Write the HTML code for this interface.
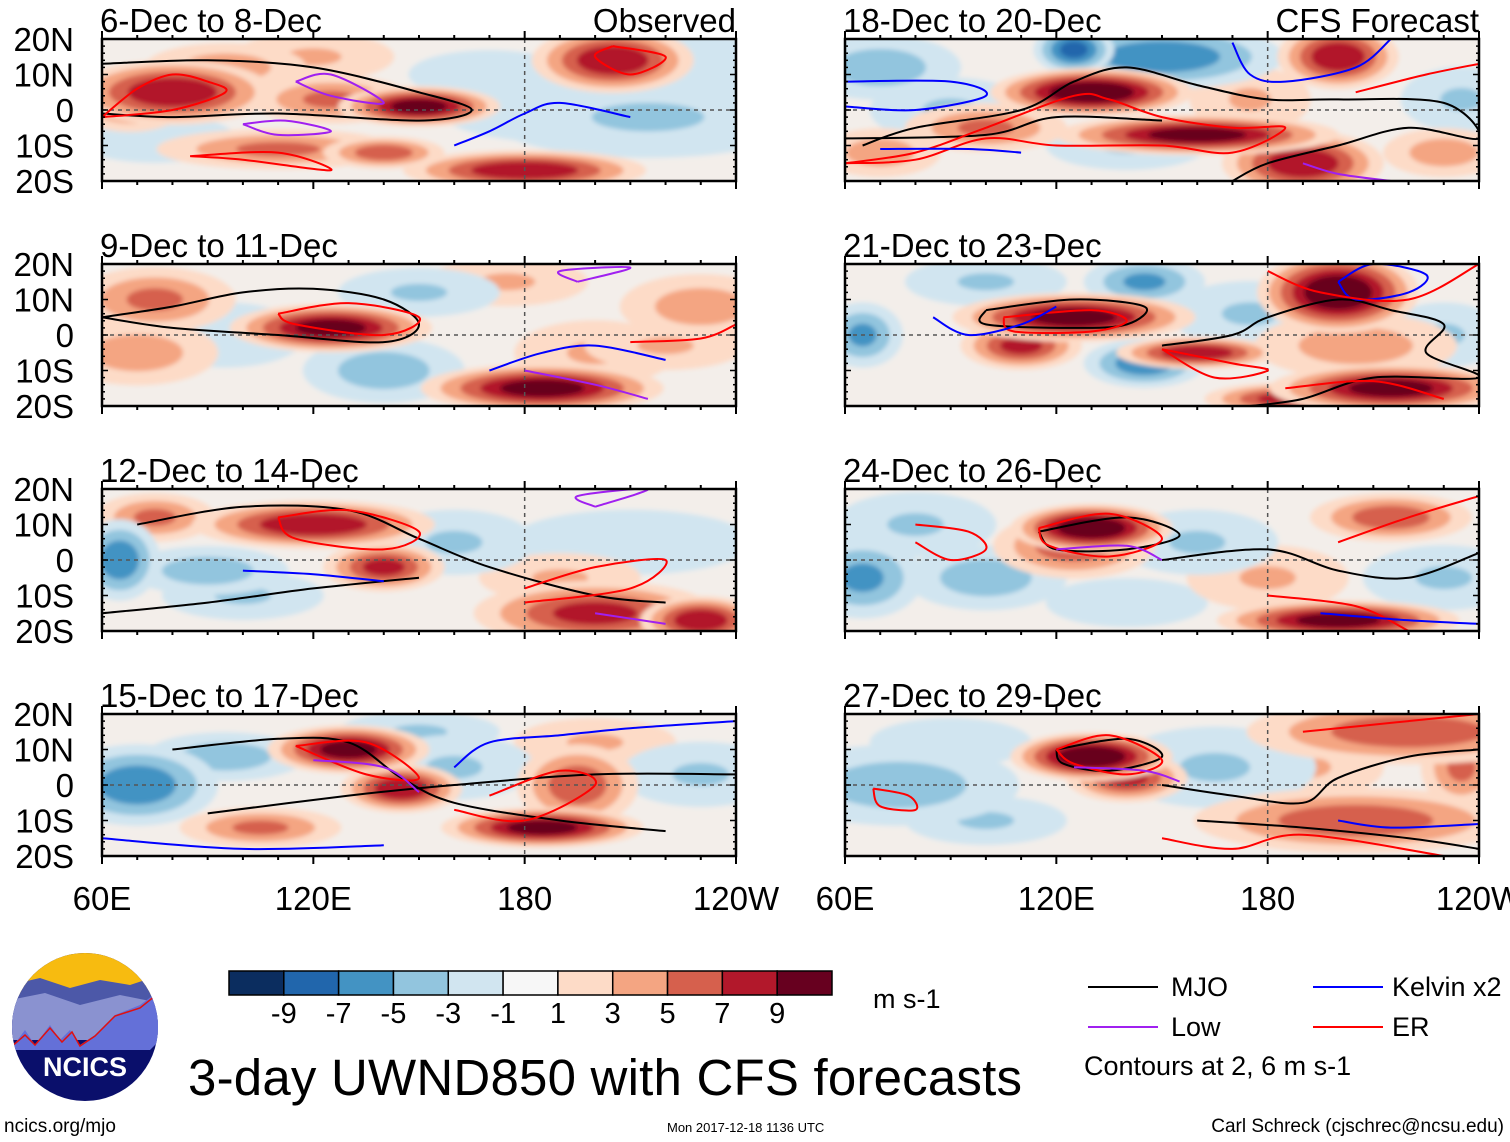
<!DOCTYPE html>
<html><head><meta charset="utf-8">
<style>
body{margin:0;background:#fff;}
svg{display:block;font-family:"Liberation Sans",Arial,sans-serif;}
</style></head>
<body>
<svg id="fig" width="1510" height="1142" viewBox="0 0 1510 1142" xmlns="http://www.w3.org/2000/svg">
<defs><clipPath id="cp0"><rect x="0" y="0" width="634" height="142"/></clipPath>
<filter id="soft" x="-5%" y="-5%" width="110%" height="110%"><feGaussianBlur stdDeviation="2.5"/></filter></defs>
<g id="panels"></g>

<g id="cbar"></g>
<text x="873" y="1008" font-size="27">m s-1</text>

<g font-size="27">
<line x1="1088" y1="987" x2="1158" y2="987" stroke="#000" stroke-width="2"/>
<text x="1171" y="996">MJO</text>
<line x1="1088" y1="1027" x2="1158" y2="1027" stroke="#a020f0" stroke-width="2"/>
<text x="1171" y="1036">Low</text>
<line x1="1313" y1="987" x2="1383" y2="987" stroke="#0000ff" stroke-width="2"/>
<text x="1392" y="996">Kelvin x2</text>
<line x1="1313" y1="1027" x2="1383" y2="1027" stroke="#ff0000" stroke-width="2"/>
<text x="1392" y="1036">ER</text>
<text x="1084" y="1075">Contours at 2, 6 m s-1</text>
</g>

<g>
<clipPath id="logoclip"><ellipse cx="85" cy="1027" rx="73" ry="74"/></clipPath>
<g clip-path="url(#logoclip)">
<rect x="10" y="950" width="150" height="155" fill="#0a0f6b"/>
<rect x="10" y="950" width="150" height="45" fill="#f7bb10"/>
<path d="M10 985 L40 978 L70 988 L100 980 L130 985 L160 975 L160 1040 L10 1040Z" fill="#4c58a8"/>
<path d="M10 1000 L45 993 L80 1005 L120 995 L160 1003 L160 1040 L10 1040Z" fill="#8a92d0"/>
<path d="M10 1050 L25 1030 L35 1045 L50 1025 L60 1040 L70 1030 L80 1045 L95 1035 L115 1015 L140 1005 L160 990 L160 1040 L150 1050 L10 1050Z" fill="#6470d8"/>
<path d="M10 1048 L25 1035 L35 1045 L50 1028 L62 1042 L72 1032 L80 1046 L95 1036 L115 1016 L140 1008 L160 992" fill="none" stroke="#e01010" stroke-width="1.5"/>
</g>
<text x="85" y="1076" font-size="27" font-weight="bold" fill="#fff" text-anchor="middle">NCICS</text>
</g>

<text x="188" y="1095" font-size="51" textLength="834">3-day UWND850 with CFS forecasts</text>
<text x="4" y="1132" font-size="19">ncics.org/mjo</text>
<text x="667" y="1132" font-size="13">Mon 2017-12-18 1136 UTC</text>
<text x="1504" y="1132" font-size="19" text-anchor="end">Carl Schreck (cjschrec@ncsu.edu)</text>
</svg>

<script>
// ---- data ----
const panelTitles = ["6-Dec to 8-Dec","9-Dec to 11-Dec","12-Dec to 14-Dec","15-Dec to 17-Dec","18-Dec to 20-Dec","21-Dec to 23-Dec","24-Dec to 26-Dec","27-Dec to 29-Dec"];
const latTicks = ["20N","10N","0","10S","20S"];
const lonTicks = ["60E","120E","180","120W"];
const colorLevels = [-9,-7,-5,-3,-1,1,3,5,7,9];
const colorBins = ["#0b2d5f","#2166ac","#4393c3","#92c5de","#d1e5f0","#f7f7f7","#fddbc7","#f4a582","#d6604d","#b2182b","#67001f"];
// anomaly blobs: [lon, lat, value(m/s), lonSpan, latSpan]
const anom0 = [[80,5,8,25,8],[68,3,6,15,8],[95,12,4,20,6],[125,3,5,20,6],[150,1,9,20,5],[140,-12,6,15,4],[110,-11,5,30,5],[205,14,8,20,8],[180,-17,8,30,5],[120,15,3,20,6],[215,-2,-3,40,10],[190,0,-2,30,8],[75,-8,-2,20,6],[230,12,-2,20,8],[170,10,-2,20,6]];
const anom1 = [[125,2,9,25,6],[75,10,5,20,8],[70,-5,4,20,8],[185,-15,9,30,6],[175,15,3,20,6],[200,-5,3,20,8],[230,8,4,20,8],[220,-3,3,20,6],[140,-10,-4,20,8],[150,12,-3,20,6],[95,0,-2,20,8],[60,0,-3,10,8]];
const anom2 = [[120,10,8,30,6],[140,-2,7,15,6],[75,12,5,15,6],[200,-15,7,30,8],[230,-17,8,15,6],[190,-5,3,20,6],[65,0,-6,10,10],[90,-3,-4,20,6],[100,-10,-3,20,6],[160,5,-3,20,8],[210,5,-2,30,8]];
const anom3 = [[130,10,9,20,6],[145,-1,8,15,6],[185,-12,9,25,5],[195,0,6,15,10],[105,-12,5,20,5],[200,12,3,20,6],[70,0,-6,20,10],[95,8,-4,20,6],[150,15,-3,20,5],[230,3,-3,20,8],[160,5,-3,20,8]];
const anom4 = [[130,5,10,25,6],[160,-7,9,35,5],[190,-15,8,20,8],[200,15,8,15,8],[100,-5,5,20,6],[230,-12,4,15,6],[70,-12,4,15,6],[175,3,3,15,8],[150,15,-6,30,8],[125,17,-7,10,6],[70,12,-4,20,8],[235,3,-3,15,8],[90,0,-3,20,8],[140,-10,-3,20,6]];
const anom5 = [[125,5,9,30,6],[110,-3,7,15,6],[200,12,10,20,10],[215,-15,9,30,6],[160,-5,8,20,4],[185,-18,7,20,4],[205,-3,4,25,8],[65,0,-5,10,8],[145,-8,-6,15,6],[145,15,-5,15,6],[175,6,-3,20,8],[230,0,-3,15,8],[100,15,-3,20,6]];
const anom6 = [[130,9,10,20,6],[125,4,6,20,8],[200,-17,9,30,5],[215,12,6,20,6],[180,-5,3,20,8],[65,-5,-5,15,10],[100,-5,-4,20,8],[80,10,-3,20,8],[160,5,-3,20,8],[230,-5,-3,20,8],[140,-12,-2,20,6]];
const anom7 = [[130,8,10,20,6],[140,2,7,15,6],[205,-10,6,40,8],[220,15,6,40,8],[190,5,3,20,8],[235,5,5,10,10],[75,0,-4,30,10],[165,5,-3,25,10],[100,-10,-3,20,6],[90,12,-2,20,6]];
const anomSets = [anom0,anom1,anom2,anom3,anom4,anom5,anom6,anom7];
// contour lines: [type, [[lon,lat],...]]
const cont0 = [["mjo",[[60,13],[90,14],[120,12],[150,5],[165,0],[150,-3],[110,-1],[80,-2],[60,-1]]],["er",[[60,-2],[70,6],[80,10],[90,8],[95,5],[80,0],[60,-2]]],["er",[[85,-13],[100,-14],[125,-17],[110,-12],[85,-13]]],["kelvin",[[160,-10],[170,-6],[180,-1],[190,2],[210,-2]]],["low",[[115,8],[125,10],[140,2],[125,4],[115,8]]],["low",[[100,-4],[110,-7],[125,-6],[112,-3],[100,-4]]],["er",[[205,18],[220,15],[210,10],[200,15],[205,18]]]];
const cont1 = [["mjo",[[60,5],[80,8],[100,12],[120,13],[140,10],[150,3],[140,-2],[110,0],[80,2],[60,5]]],["er",[[110,6],[130,9],[150,5],[140,0],[115,3],[110,6]]],["kelvin",[[170,-10],[185,-5],[200,-3],[220,-7]]],["er",[[210,-2],[230,-1],[240,3]]],["low",[[180,-10],[200,-14],[215,-18]]],["low",[[195,15],[210,19],[190,18],[195,15]]]];
const cont2 = [["mjo",[[70,10],[100,15],[130,14],[150,6],[170,-2],[200,-10],[220,-12]]],["mjo",[[60,-15],[90,-12],[120,-8],[150,-5]]],["er",[[110,12],[130,14],[150,8],[140,3],[115,6],[110,12]]],["er",[[180,-8],[200,-2],[220,0],[210,-8],[180,-12]]],["kelvin",[[100,-3],[120,-4],[140,-6]]],["low",[[200,-15],[220,-18]]],["low",[[200,15],[215,20],[195,18],[200,15]]]];
const cont3 = [["mjo",[[80,10],[110,13],[130,12],[145,2],[160,-5],[190,-10],[220,-13]]],["mjo",[[90,-8],[130,-3],[160,0],[200,3],[240,3]]],["er",[[115,11],[135,12],[150,2],[135,3],[115,11]]],["er",[[160,-7],[180,-10],[200,0],[190,4],[170,-3]]],["kelvin",[[160,5],[170,12],[190,14],[210,16],[240,18]]],["low",[[120,7],[140,5],[150,-2]]],["kelvin",[[60,-15],[100,-18],[140,-17]]]];
const cont4 = [["mjo",[[65,-10],[80,-5],[110,0],[125,8],[140,12],[160,7],[180,3],[200,3],[230,2],[240,-8],[220,-5],[200,-10],[180,-15],[170,-20]]],["mjo",[[60,-8],[100,-7],[120,-2],[150,-3]]],["er",[[60,-15],[80,-12],[100,-5],[125,4],[135,3],[150,-2],[170,-5],[185,-5],[170,-12],[150,-10],[120,-10],[100,-8],[80,-14],[60,-15]]],["kelvin",[[60,8],[90,8],[100,4],[80,0],[60,1]]],["kelvin",[[70,-11],[95,-11],[110,-12]]],["kelvin",[[170,19],[175,10],[185,8],[205,12],[215,20]]],["er",[[205,5],[225,10],[240,13]]],["low",[[190,-15],[200,-18],[215,-20]]]];
const cont5 = [["mjo",[[100,7],[125,10],[145,8],[140,3],[125,2],[100,3],[100,7]]],["mjo",[[150,-3],[170,0],[180,5],[200,10],[215,7],[230,3],[225,-5],[240,-12],[210,-12],[190,-18],[175,-20]]],["er",[[105,5],[130,7],[140,4],[130,1],[108,1],[105,5]]],["er",[[150,-4],[170,-8],[180,-10],[165,-12],[150,-4]]],["er",[[185,-15],[210,-13],[230,-18]]],["kelvin",[[200,15],[210,20],[225,17],[220,12],[205,10],[200,15]]],["kelvin",[[85,5],[95,0],[110,3],[120,8]]],["er",[[180,18],[195,12],[220,10],[240,20]]]];
const cont6 = [["mjo",[[115,8],[140,12],[155,7],[140,3],[120,3],[115,8]]],["mjo",[[150,0],[180,3],[200,-3],[220,-5],[240,2]]],["er",[[115,9],[135,13],[150,6],[135,1],[118,4],[115,9]]],["er",[[80,10],[95,8],[100,3],[90,0],[80,5]]],["er",[[180,-10],[205,-13],[220,-20]]],["kelvin",[[195,-15],[220,-17],[240,-18]]],["er",[[200,5],[220,12],[240,18]]],["low",[[120,3],[140,4],[150,0]]]];
const cont7 = [["mjo",[[120,10],[140,13],[150,8],[135,4],[122,6],[120,10]]],["mjo",[[150,0],[170,-3],[190,-5],[200,2],[220,8],[240,10]]],["mjo",[[160,-10],[190,-12],[220,-15],[240,-18]]],["er",[[120,10],[135,14],[150,7],[140,3],[125,6],[120,10]]],["er",[[68,-1],[78,-3],[80,-7],[70,-6],[68,-1]]],["er",[[150,-15],[170,-18],[190,-14],[230,-20]]],["kelvin",[[200,-10],[215,-12],[240,-11]]],["low",[[125,5],[145,4],[155,1]]],["er",[[190,15],[220,18],[240,20]]]];
const contSets = [cont0,cont1,cont2,cont3,cont4,cont5,cont6,cont7];

// ---- layout / axes ----
const NS = "http://www.w3.org/2000/svg";
const colX = [102, 845];
const rowY = [39, 264, 489, 714];
const PW = 634, PH = 142;
const xScale = lon => (lon - 60) / 180 * PW;
const yScale = lat => (20 - lat) / 40 * PH;
const colorFor = v => { let i = 0; while (i < colorLevels.length && v > colorLevels[i]) i++; return colorBins[i]; };
const lineColor = {mjo:"#000", er:"#ff0000", kelvin:"#0000ff", low:"#a020f0"};
function mk(tag, attrs, parent){ const e=document.createElementNS(NS,tag); for(const k in attrs) e.setAttribute(k,attrs[k]); parent.appendChild(e); return e; }
function smooth(pts){
  let d = "M"+pts[0][0].toFixed(1)+" "+pts[0][1].toFixed(1);
  for (let i=0;i<pts.length-1;i++){
    const p0=pts[Math.max(i-1,0)], p1=pts[i], p2=pts[i+1], p3=pts[Math.min(i+2,pts.length-1)];
    const c1=[p1[0]+(p2[0]-p0[0])/6, p1[1]+(p2[1]-p0[1])/6];
    const c2=[p2[0]-(p3[0]-p1[0])/6, p2[1]-(p3[1]-p1[1])/6];
    d += " C"+c1[0].toFixed(1)+" "+c1[1].toFixed(1)+" "+c2[0].toFixed(1)+" "+c2[1].toFixed(1)+" "+p2[0].toFixed(1)+" "+p2[1].toFixed(1);
  }
  return d;
}

const root = document.getElementById("panels");
for (let p = 0; p < 8; p++) {
  const col = p < 4 ? 0 : 1, row = p % 4;
  const g = mk("g", {transform:`translate(${colX[col]},${rowY[row]})`}, root);
  
  
  const inner = mk("g", {"clip-path":"url(#cp0)"}, g);
  const shade = mk("g", {filter:"url(#soft)"}, inner);
  const bg = mk("rect", {x:-10,y:-10,width:PW+20,height:PH+20,fill:"#f3eeea"}, shade);
  
  
  const blobs = anomSets[p].slice().sort((a,b)=>Math.abs(a[2])-Math.abs(b[2]));
  for (const b of blobs) {
    const sgn = Math.sign(b[2]), av = Math.abs(b[2]);
    for (let L = 1; L <= av; L += 2) {
      const s = 2.3 - 1.5 * (L - 1) / Math.max(av - 1, 1);
      const el = mk("ellipse", {cx:xScale(b[0]), cy:yScale(b[1]), rx:xScale(60 + b[3]*s/2), ry:(b[4]*s/2)/40*PH, fill:colorFor(sgn*(L+1))}, shade);
      
      
    }
  }
  const eq = mk("line", {x1:0,y1:yScale(0),x2:PW,y2:yScale(0),stroke:"#555","stroke-width":1.5,"stroke-dasharray":"4,4"}, inner);
  
  
  const dl = mk("line", {x1:xScale(180),y1:0,x2:xScale(180),y2:PH,stroke:"#555","stroke-width":1.5,"stroke-dasharray":"4,4"}, inner);
  
  
  for (const c of contSets[p]) {
    const pts = c[1].map(pt=>[xScale(pt[0]), yScale(pt[1])]);
    const pa = mk("path", {d:smooth(pts), fill:"none", stroke:lineColor[c[0]], "stroke-width":2, "stroke-linejoin":"round"}, inner);
    
    
  }
  const fr = mk("rect", {x:0,y:0,width:PW,height:PH,fill:"none",stroke:"#000","stroke-width":2.5}, g);
  
  
  for (let lon = 60; lon <= 240; lon += 10) {
    const len = (lon % 60 === 0) ? 8 : 4;
    const x = xScale(lon);
    const t1 = mk("line", {x1:x,y1:PH,x2:x,y2:PH+len,stroke:"#000","stroke-width":2}, g);
    
    
    const t2 = mk("line", {x1:x,y1:0,x2:x,y2:-len,stroke:"#000","stroke-width":2}, g);
    
    
  }
  for (let lat = -20; lat <= 20; lat += 2) {
    const len = (lat % 10 === 0) ? 6 : 3;
    const y = yScale(lat);
    const t1 = mk("line", {x1:0,y1:y,x2:len,y2:y,stroke:"#000","stroke-width":1.5}, g);
    
    
    const t2 = mk("line", {x1:PW,y1:y,x2:PW-len,y2:y,stroke:"#000","stroke-width":1.5}, g);
    
    
  }
  const tt = mk("text", {x:-2,y:-7,"font-size":33}, g);
  tt.textContent = panelTitles[p];
  
  
  if (row === 0) {
    const lab = mk("text", {x:PW,y:-7,"font-size":33,"text-anchor":"end"}, g);
    lab.textContent = col === 0 ? "Observed" : "CFS Forecast";
    
    
  }
  if (col === 0) {
    latTicks.forEach((t,i)=>{
      const lt = mk("text", {x:-28,y:yScale(20 - i*10)+12,"font-size":33,"text-anchor":"end"}, g);
      lt.textContent = t;
      
      
    });
  }
  if (row === 3) {
    lonTicks.forEach((t,i)=>{
      const lt = mk("text", {x:xScale(60 + i*60),y:PH+54,"font-size":33,"text-anchor":"middle"}, g);
      lt.textContent = t;
      
      
    });
  }
}

const cb = document.getElementById("cbar");
const cbX = 229, cbW = 603, cbY = 971, cbH = 24;
const bw = cbW / colorBins.length;
colorBins.forEach((c,i)=>{
  const r = mk("rect", {x:cbX+i*bw,y:cbY,width:bw,height:cbH,fill:c,stroke:"#000","stroke-width":1.5}, cb);
  
  
});
colorLevels.forEach((v,i)=>{
  const t = mk("text", {x:cbX+(i+1)*bw,y:1023,"font-size":29,"text-anchor":"middle"}, cb);
  t.textContent = v;
  
  
});
</script>
</body></html>
